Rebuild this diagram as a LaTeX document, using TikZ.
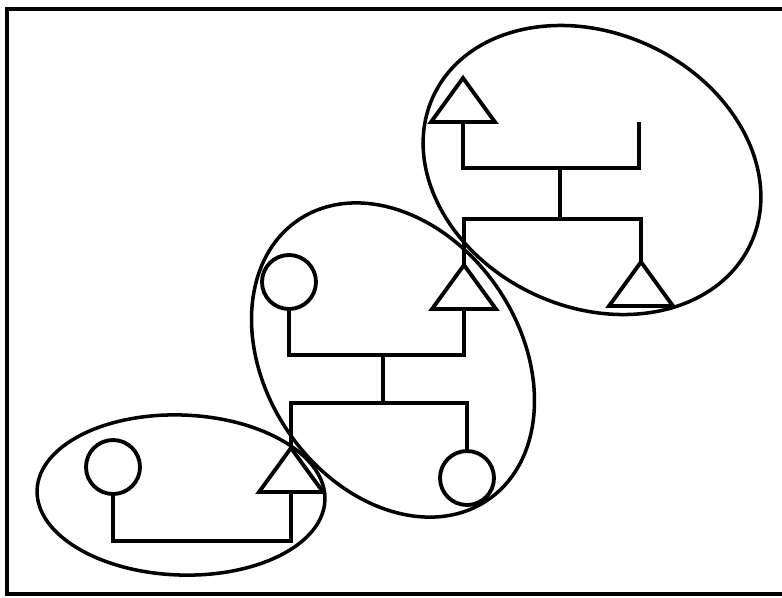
\documentclass[tikz,border=0pt]{standalone}
\usetikzlibrary{shapes, shapes.geometric}

\tikzset{
    female/.style={draw, line width=1.1pt, circle, minimum size=0.54cm, inner sep=0pt, outer sep=0pt},
    male/.style={draw, line width=1.1pt, isosceles triangle, shape border rotate=90, isosceles triangle apex angle=72, minimum width=0.44cm, minimum height=0.44cm, inner sep=0pt, outer sep=0pt},
    family/.style={line width=1pt},
    link/.style={line width=1.1pt}
}

\begin{document}
\begin{tikzpicture}
    \useasboundingbox (0,0) rectangle (7.82,-5.97);
    \draw[line width=1.1pt] (7.9,-0.09) -- (0.07,-0.09) -- (0.07,-5.94) -- (7.9,-5.94);
    %
    \node[female] (f1) at (1.13,-4.67) {};
    \node[male, anchor=apex] (m1) at (2.91,-4.48) {};
    \node[female] (f2) at (2.89,-2.82) {};
    \node[male, anchor=apex] (m2) at (4.64,-2.65) {};
    \node[female] (f3) at (4.67,-4.78) {};
    \node[male, anchor=apex] (m3) at (4.63,-0.78) {};
    \node[male, anchor=apex] (m4) at (6.41,-2.62) {};
    %
    \coordinate (u1) at (2.0,-5.41);
    \coordinate (u2) at (3.83,-3.55);
    \coordinate (s2) at (3.83,-4.03);
    \coordinate (u3) at (5.60,-1.68);
    \coordinate (s3) at (5.60,-2.19);
    \coordinate (p3) at (6.39,-1.22);
    %
    \draw[link] (f1.south) |- (u1) -| (m1.south);
    %
    \draw[link] (f2.south) |- (u2) -| (m2.south);
    \draw[link] (u2) -- (s2);
    \draw[link] (s2) -| (m1.apex);
    \draw[link] (s2) -| (f3.north);
    %
    \draw[link] (m3.south) |- (u3) -| (p3);
    \draw[link] (u3) -- (s3);
    \draw[link] (s3) -| (m2.apex);
    \draw[link] (s3) -| (m4.apex);
    %
    \draw[family, rotate around={-2:(1.81,-4.95)}] (1.81,-4.95) ellipse (1.44 and 0.80);
    \draw[family, rotate around={-56:(3.93,-3.60)}] (3.93,-3.60) ellipse (1.69 and 1.27);
    \draw[family, rotate around={-25:(5.92,-1.70)}] (5.92,-1.70) ellipse (1.75 and 1.37);
\end{tikzpicture}
\end{document}
